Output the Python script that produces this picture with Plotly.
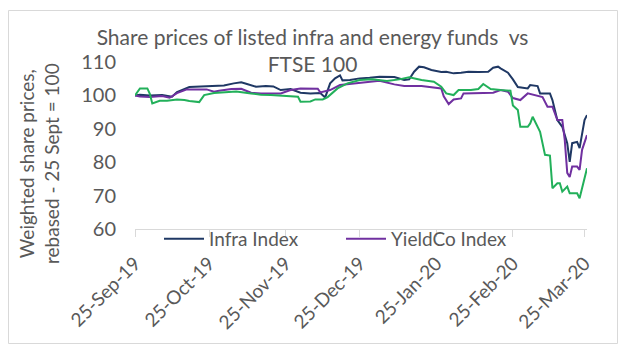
import plotly.graph_objects as go

# ---------------- data ----------------
infra_dates = ["2019-09-25","2019-09-27","2019-10-01","2019-10-06","2019-10-10","2019-10-12","2019-10-17","2019-10-21",
    "2019-10-27","2019-10-31","2019-11-04","2019-11-07","2019-11-09","2019-11-13","2019-11-17","2019-11-20",
    "2019-11-23","2019-11-27","2019-12-01","2019-12-05","2019-12-09","2019-12-11","2019-12-13","2019-12-15",
    "2019-12-17","2019-12-18","2019-12-21","2019-12-25","2019-12-29","2020-01-02","2020-01-08","2020-01-12",
    "2020-01-14","2020-01-16","2020-01-18","2020-01-20","2020-01-23","2020-01-27","2020-01-29","2020-02-01",
    "2020-02-04","2020-02-07","2020-02-11","2020-02-15","2020-02-17","2020-02-19","2020-02-20","2020-02-23",
    "2020-02-25","2020-02-27","2020-03-02","2020-03-03","2020-03-06","2020-03-07","2020-03-11","2020-03-12",
    "2020-03-14","2020-03-16","2020-03-18","2020-03-19","2020-03-20","2020-03-22","2020-03-23","2020-03-25",
    "2020-03-26"]
infra_vals = [100.0,100.2,100.0,100.1,99.6,101.0,102.5,102.6,
    102.8,103.0,103.6,103.9,103.5,102.6,102.8,102.7,
    101.6,101.9,100.8,100.6,100.7,99.4,103.6,105.1,
    106.0,104.5,104.6,105.1,105.3,105.6,105.5,104.6,
    104.8,107.1,108.6,108.4,107.6,107.0,107.1,106.6,
    106.8,107.1,107.0,107.1,108.3,108.6,108.1,106.8,
    104.8,102.5,102.1,103.1,102.8,100.6,100.6,98.6,
    92.6,90.6,85.7,80.1,85.7,86.1,84.2,92.6,
    94.1]

yield_dates = ["2019-09-25","2019-09-27","2019-10-01","2019-10-06","2019-10-09","2019-10-12","2019-10-16","2019-10-24",
    "2019-10-27","2019-10-29","2019-11-03","2019-11-07","2019-11-11","2019-11-15","2019-11-23","2019-11-27",
    "2019-12-01","2019-12-08","2019-12-09","2019-12-13","2019-12-17","2019-12-23","2019-12-29","2020-01-02",
    "2020-01-08","2020-01-12","2020-01-19","2020-01-24","2020-01-27","2020-01-28","2020-01-30","2020-02-01",
    "2020-02-04","2020-02-05","2020-02-11","2020-02-17","2020-02-20","2020-02-23","2020-02-25","2020-02-28",
    "2020-03-02","2020-03-06","2020-03-08","2020-03-10","2020-03-12","2020-03-14","2020-03-16","2020-03-17",
    "2020-03-18","2020-03-19","2020-03-20","2020-03-22","2020-03-23","2020-03-24","2020-03-26"]
yield_vals = [100.0,99.7,99.5,99.8,99.3,100.7,101.8,101.8,
    101.1,101.4,101.9,102.0,100.8,100.6,100.6,101.6,
    102.1,102.0,100.9,101.6,103.1,103.6,104.2,104.4,
    103.3,102.8,102.8,102.3,102.1,99.7,97.4,98.8,
    99.1,100.6,100.8,100.8,101.6,101.1,99.2,98.6,
    100.6,99.8,99.5,96.6,96.6,92.6,92.6,86.6,
    76.8,75.6,78.7,78.7,77.7,83.7,88.1]

ftse_dates = ["2019-09-25","2019-09-27","2019-09-30","2019-10-01","2019-10-02","2019-10-05","2019-10-08","2019-10-12",
    "2019-10-15","2019-10-17","2019-10-21","2019-10-23","2019-10-27","2019-10-31","2019-11-05","2019-11-11",
    "2019-11-15","2019-11-19","2019-11-27","2019-11-30","2019-12-01","2019-12-05","2019-12-07","2019-12-10",
    "2019-12-12","2019-12-16","2019-12-20","2019-12-25","2019-12-30","2020-01-05","2020-01-10","2020-01-14",
    "2020-01-19","2020-01-24","2020-01-27","2020-01-29","2020-02-01","2020-02-03","2020-02-08","2020-02-11",
    "2020-02-13","2020-02-16","2020-02-20","2020-02-23","2020-02-24","2020-02-25","2020-02-27","2020-02-28",
    "2020-03-02","2020-03-03","2020-03-04","2020-03-07","2020-03-09","2020-03-11","2020-03-12","2020-03-14",
    "2020-03-15","2020-03-16","2020-03-18","2020-03-19","2020-03-22","2020-03-23","2020-03-25","2020-03-26"]
ftse_vals = [100.0,102.1,102.1,100.5,97.6,98.4,98.4,98.8,
    98.6,98.3,98.0,100.1,100.7,100.9,101.2,100.6,
    100.2,100.1,99.8,99.6,98.1,98.2,98.8,98.8,
    99.5,102.1,103.6,104.6,104.8,104.3,104.8,105.4,
    104.6,104.1,102.6,100.6,100.1,101.6,101.6,101.9,
    103.4,101.9,101.6,101.6,101.4,97.0,95.6,90.6,
    90.6,91.6,93.6,89.1,82.2,82.0,72.2,73.7,
    73.7,71.2,72.7,70.7,70.7,69.2,74.7,78.2]

tick_dates = ["2019-09-25","2019-10-25","2019-11-25","2019-12-25","2020-01-25","2020-02-25","2020-03-25"]
tick_labels = ["25-Sep-19","25-Oct-19","25-Nov-19","25-Dec-19","25-Jan-20","25-Feb-20","25-Mar-20"]
y_ticks = [60, 70, 80, 90, 100, 110]

# ---------------- layout geometry ----------------
W, H = 625, 354
L, R, T, B = 135, 38, 62, 125
PW, PH = W - L - R, H - T - B

def px_x(x):
    return (x - L) / PW

def px_y(y):
    return (H - B - y) / PH

FONT = "Lato"
GREY = "#595959"

fig = go.Figure()
fig.add_trace(go.Scatter(x=infra_dates, y=infra_vals, mode="lines", name="Infra Index",
                         line=dict(color="#1F3864", width=2)))
fig.add_trace(go.Scatter(x=yield_dates, y=yield_vals, mode="lines", name="YieldCo Index",
                         line=dict(color="#7030A0", width=2)))
fig.add_trace(go.Scatter(x=ftse_dates, y=ftse_vals, mode="lines", name="FTSE 100",
                         line=dict(color="#22B05A", width=2), showlegend=False))

fig.update_layout(
    width=W, height=H,
    margin=dict(l=L, r=R, t=T, b=B, pad=0),
    paper_bgcolor="white", plot_bgcolor="white",
    font=dict(family=FONT, color=GREY, size=19),
    title=dict(text="Share prices of listed infra and energy funds  vs<br>FTSE 100",
               x=0.5, xref="container", xanchor="center",
               y=1 - 45 / H, yref="container", yanchor="top",
               font=dict(family=FONT, size=21, color=GREY)),
    xaxis=dict(type="date", range=["2019-09-25", "2020-03-26"],
               tickmode="array", tickvals=tick_dates, ticktext=tick_labels,
               tickangle=-45, showgrid=False, zeroline=False,
               showline=True, linecolor="#D9D9D9", linewidth=1,
               ticks="outside", ticklen=7, tickcolor="#D9D9D9",
               ticklabelstandoff=8,
               tickfont=dict(family=FONT, size=19, color=GREY)),
    yaxis=dict(range=[60, 110], tickmode="array", tickvals=y_ticks,
               showgrid=False, zeroline=False, showline=False,
               ticks="", ticklabelstandoff=18,
               tickfont=dict(family=FONT, size=20, color=GREY)),
    legend=dict(orientation="h", x=px_x(159), xanchor="left",
                y=px_y(220), yanchor="top", bgcolor="rgba(0,0,0,0)",
                font=dict(family=FONT, size=19, color=GREY),
                itemwidth=40, entrywidth=127, tracegroupgap=0),
    showlegend=True,
)

fig.add_annotation(text="Weighted share prices,<br>rebased - 25 Sept = 100",
                   xref="paper", yref="paper", x=px_x(39), y=px_y(164),
                   xanchor="center", yanchor="middle", textangle=-90,
                   showarrow=False, font=dict(family=FONT, size=19, color=GREY))

fig.add_shape(type="rect", xref="paper", yref="paper",
              x0=px_x(8.5), x1=px_x(617.5), y0=px_y(343.5), y1=px_y(10.5),
              line=dict(color="#D9D9D9", width=1), layer="below")

fig.write_html("out.html", config={"displayModeBar": False})
